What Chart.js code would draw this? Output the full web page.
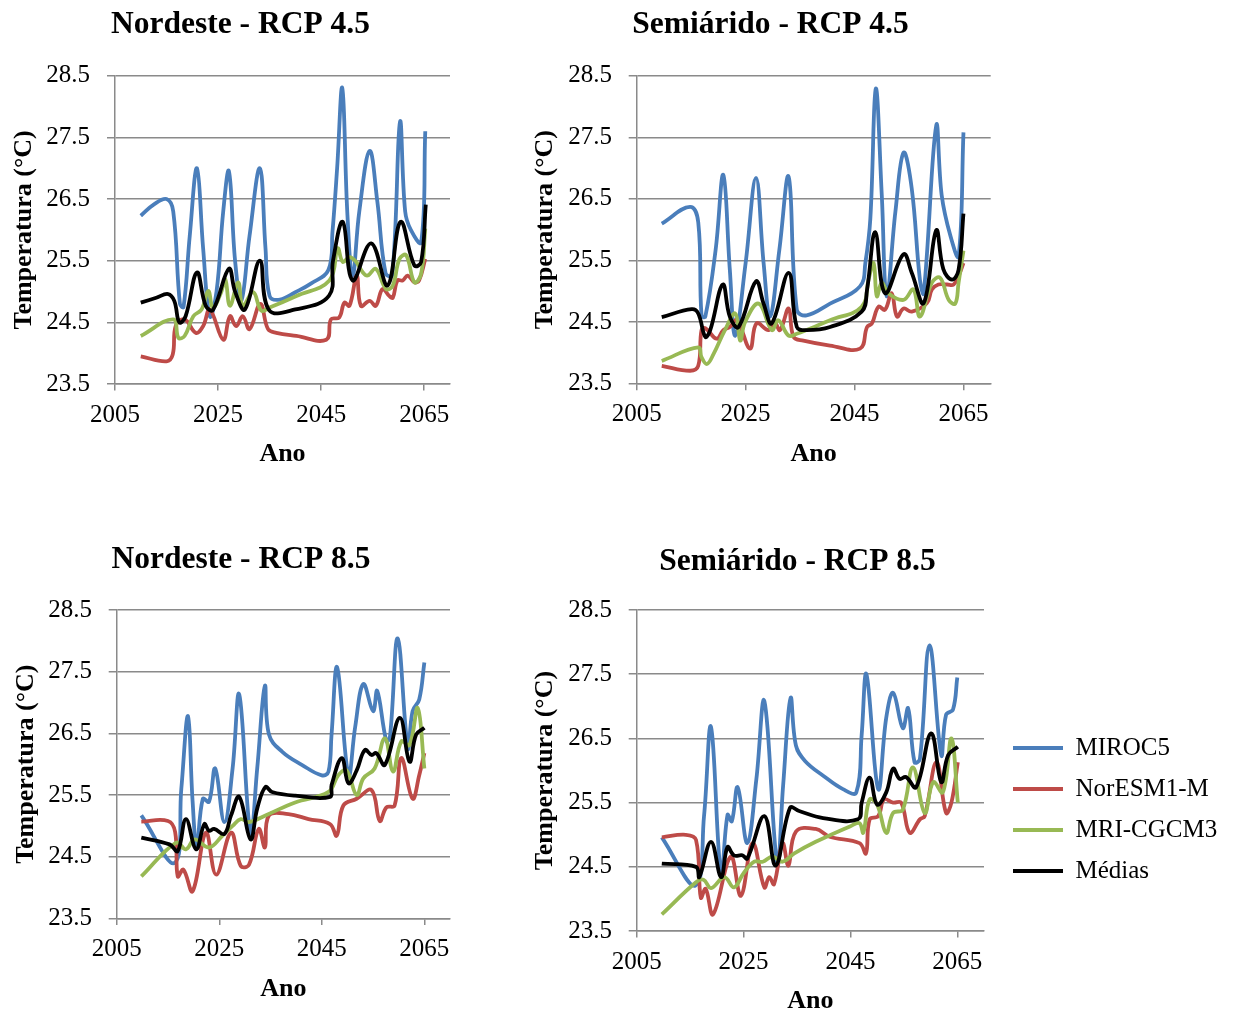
<!DOCTYPE html>
<html>
<head>
<meta charset="utf-8">
<script src="https://cdn.jsdelivr.net/npm/chart.js@4.4.1/dist/chart.umd.min.js"></script>
<style>
html, body { margin: 0; padding: 0; background: #ffffff; width: 1237px; height: 1010px; overflow: hidden; }
canvas { position: absolute; }
</style>
</head>
<body>
<canvas id="p1"></canvas>
<canvas id="p2"></canvas>
<canvas id="p3"></canvas>
<canvas id="p4"></canvas>
<script>
// ---------- labels ----------
const seriesNames = ['MIROC5', 'NorESM1-M', 'MRI-CGCM3', 'Médias'];
const panelTitles = ['Nordeste - RCP 4.5', 'Semiárido - RCP 4.5', 'Nordeste - RCP 8.5', 'Semiárido - RCP 8.5'];
const xAxisTitle = 'Ano';
const yAxisTitle = 'Temperatura (°C)';
const xTickValues = [2005, 2025, 2045, 2065];
const yTickValues = [23.5, 24.5, 25.5, 26.5, 27.5, 28.5];

// ---------- Nordeste - RCP 4.5 ----------
const ne45MirocYears = [2010, 2012.5, 2015, 2016.3, 2017.6, 2018.3, 2019.5, 2020.9, 2022.1, 2023.4, 2024.7, 2026, 2027.1, 2028.3, 2029.5, 2031.1, 2033.1, 2034.2, 2035, 2037, 2040, 2043, 2046.4, 2047.2, 2048.1, 2049.1, 2050.1, 2051.1, 2052.4, 2054.4, 2055.9, 2057.5, 2058.8, 2060.3, 2061.3, 2062.4, 2064.4, 2065.2];
const ne45MirocTemp  = [26.23, 26.41, 26.5, 26.3, 24.8, 24.75, 25.9, 27.0, 25.7, 24.6, 25.0, 26.3, 26.95, 25.5, 24.85, 25.9, 27.0, 25.7, 24.93, 24.87, 24.99, 25.13, 25.35, 25.97, 27.0, 28.3, 26.24, 25.25, 26.3, 27.28, 26.46, 25.3, 25.26, 27.75, 26.3, 26.0, 25.8, 27.6];
const ne45NorYears = [2010, 2015, 2016.2, 2016.8, 2018.5, 2020.7, 2022.1, 2023.4, 2026, 2027.3, 2028.5, 2029.8, 2031.1, 2033.2, 2034.7, 2036.3, 2040.2, 2046, 2046.9, 2048.5, 2049.5, 2050.5, 2051.9, 2052.7, 2054.4, 2055.6, 2056.9, 2058.2, 2058.9, 2059.8, 2060.8, 2061.8, 2063.1, 2064, 2065.2];
const ne45NorTemp  = [23.95, 23.87, 23.98, 24.45, 24.55, 24.33, 24.44, 24.71, 24.22, 24.6, 24.44, 24.6, 24.39, 24.8, 24.39, 24.33, 24.28, 24.22, 24.55, 24.58, 24.82, 24.77, 25.26, 24.77, 24.85, 24.77, 25.04, 24.93, 24.9, 25.18, 25.18, 25.26, 25.15, 25.18, 25.53];
const ne45MriYears = [2010, 2016.3, 2017.3, 2018.5, 2020.2, 2021.8, 2023.1, 2024, 2025.6, 2026.4, 2027.3, 2028.9, 2029.8, 2031.8, 2033.4, 2035, 2040.2, 2046.6, 2048.2, 2049.2, 2050.5, 2051.8, 2053.1, 2054, 2055.6, 2057.6, 2058.9, 2060.2, 2061.5, 2063.1, 2064.4, 2065.2];
const ne45MriTemp  = [24.28, 24.55, 24.25, 24.28, 24.6, 24.71, 25.01, 24.74, 24.99, 25.2, 24.77, 25.15, 24.77, 24.99, 24.69, 24.74, 24.93, 25.18, 25.7, 25.48, 25.56, 25.48, 25.31, 25.26, 25.37, 25.04, 25.1, 25.53, 25.59, 25.15, 25.29, 26.02];
const ne45MeanYears = [2010, 2013, 2015.3, 2016.5, 2017.5, 2018.7, 2020.9, 2022.6, 2024, 2027.1, 2028.3, 2030.2, 2033.1, 2034.9, 2040, 2046.5, 2047.3, 2049.2, 2051.1, 2054.7, 2057.9, 2060.4, 2063.1, 2064.4, 2065.3];
const ne45MeanTemp  = [24.82, 24.9, 24.96, 24.85, 24.5, 24.6, 25.31, 24.77, 24.7, 25.37, 25.0, 24.71, 25.5, 24.7, 24.71, 24.93, 25.5, 26.13, 25.18, 25.78, 25.1, 26.13, 25.42, 25.48, 26.41];

// ---------- Semiárido - RCP 4.5 ----------
const sa45MirocYears = [2009.6, 2014.8, 2016.3, 2016.9, 2017.6, 2019.5, 2020.9, 2022.1, 2023.1, 2025, 2026.9, 2028.3, 2029.5, 2031.2, 2032.9, 2034.4, 2036.2, 2040.5, 2046, 2047, 2047.9, 2048.9, 2050, 2050.9, 2052.5, 2054, 2055.5, 2057, 2057.7, 2060, 2061, 2062.6, 2064.1, 2065];
const sa45MirocTemp  = [26.1, 26.37, 26.12, 24.61, 24.59, 25.68, 26.89, 25.35, 24.28, 25.46, 26.84, 25.46, 24.59, 25.68, 26.86, 24.7, 24.61, 24.8, 25.08, 25.47, 26.18, 28.29, 26.56, 24.92, 26.29, 27.25, 26.67, 25.19, 24.97, 27.69, 26.56, 25.9, 25.57, 27.58];
const sa45NorYears = [2009.6, 2014.8, 2016.3, 2016.9, 2017.6, 2019.7, 2020.9, 2022.1, 2023.4, 2025.8, 2027, 2029.2, 2030.3, 2031.3, 2032.9, 2033.8, 2035.6, 2040.5, 2046, 2047.3, 2048.2, 2049.4, 2050.6, 2051.8, 2052.8, 2054, 2055.5, 2058.3, 2059.2, 2060.4, 2062, 2063.2, 2064.1, 2065];
const sa45NorTemp  = [23.79, 23.71, 23.79, 24.37, 24.4, 24.23, 24.37, 24.42, 24.53, 24.07, 24.48, 24.37, 24.5, 24.37, 24.72, 24.26, 24.2, 24.12, 24.07, 24.42, 24.48, 24.75, 24.7, 24.97, 24.59, 24.72, 24.67, 24.81, 25.03, 25.11, 25.11, 25.11, 25.25, 25.46];
const sa45MriYears = [2009.6, 2016.3, 2016.9, 2017.9, 2019.1, 2021.2, 2023.1, 2024, 2024.9, 2027.4, 2029.8, 2031, 2032.9, 2034.4, 2036.2, 2040.5, 2046.3, 2047.6, 2048.5, 2049.1, 2050, 2051.2, 2054, 2055.8, 2057, 2059.2, 2060.7, 2062.3, 2063.5, 2064.1, 2065];
const sa45MriTemp  = [23.87, 24.09, 23.93, 23.82, 23.98, 24.37, 24.64, 24.2, 24.5, 24.8, 24.37, 24.53, 24.28, 24.31, 24.37, 24.53, 24.75, 25.2, 25.46, 24.92, 25.14, 24.97, 24.86, 25.03, 24.59, 25.14, 25.22, 24.86, 24.8, 25.14, 25.66];
const sa45MeanYears = [2009.6, 2015.1, 2016.3, 2017.6, 2018.5, 2020.8, 2022.1, 2023.7, 2026.9, 2028.3, 2029.8, 2032.9, 2034.4, 2036.2, 2040.5, 2046.3, 2047.3, 2048.8, 2050.6, 2054, 2055.5, 2057.7, 2060, 2061.3, 2062.9, 2064.1, 2065];
const sa45MeanTemp  = [24.58, 24.71, 24.64, 24.26, 24.37, 25.11, 24.59, 24.42, 25.16, 24.8, 24.48, 25.3, 24.42, 24.37, 24.42, 24.67, 25.03, 25.96, 24.97, 25.6, 25.3, 24.81, 25.99, 25.36, 25.19, 25.35, 26.26];

// ---------- Nordeste - RCP 8.5 ----------
const ne85MirocYears = [2009.8, 2016.3, 2017.6, 2018.9, 2019.8, 2020.6, 2021.8, 2023, 2024.2, 2026, 2027.6, 2028.9, 2031.1, 2032.4, 2033.9, 2034.7, 2037.3, 2041.1, 2045, 2046.3, 2046.9, 2048, 2050.2, 2051.5, 2053.1, 2055, 2055.8, 2057.6, 2058.3, 2059.8, 2061.8, 2062.7, 2064, 2065];
const ne85MirocTemp  = [25.17, 24.4, 25.6, 26.78, 25.4, 24.67, 25.44, 25.39, 25.93, 25.06, 25.93, 27.13, 24.87, 25.93, 27.27, 26.48, 26.2, 25.99, 25.82, 25.88, 26.48, 27.57, 25.82, 26.6, 27.3, 26.86, 27.19, 26.37, 26.45, 28.04, 26.26, 26.86, 27.05, 27.65];
const ne85NorYears = [2009.8, 2015, 2016.4, 2016.9, 2018, 2019.8, 2022.4, 2024.4, 2027.3, 2029.2, 2030.8, 2032.7, 2033.9, 2034.7, 2038.5, 2042.4, 2046.6, 2047.9, 2049.2, 2051.8, 2054.7, 2056.3, 2057.6, 2059.2, 2060.5, 2062.7, 2064, 2065];
const ne85NorTemp  = [25.07, 25.08, 24.9, 24.18, 24.29, 23.94, 24.89, 24.21, 24.89, 24.35, 24.37, 24.95, 24.65, 25.17, 25.19, 25.11, 25.03, 24.84, 25.33, 25.44, 25.58, 25.08, 25.3, 25.33, 26.1, 25.44, 25.82, 26.18];
const ne85MriYears = [2009.8, 2016.6, 2018.5, 2020.2, 2023, 2025.6, 2027.6, 2029.2, 2030.8, 2034, 2039.8, 2046.3, 2048.2, 2049.8, 2051.8, 2053.1, 2055.3, 2057.3, 2058.9, 2060.5, 2062.1, 2063.7, 2065];
const ne85MriTemp  = [24.18, 24.73, 24.62, 24.78, 24.65, 24.84, 25.0, 25.11, 25.06, 25.17, 25.38, 25.55, 25.82, 25.9, 25.5, 25.77, 25.93, 26.42, 25.88, 26.37, 26.31, 26.91, 25.93];
const ne85MeanYears = [2009.8, 2015.3, 2016.9, 2018.5, 2020.5, 2022.1, 2023, 2024, 2026, 2027.3, 2028.9, 2031.1, 2032.4, 2034, 2035.3, 2039.8, 2046.6, 2046.9, 2048.9, 2050.2, 2051.8, 2053.4, 2054.7, 2055.6, 2057.3, 2060.2, 2062.1, 2063.4, 2065];
const ne85MeanTemp  = [24.81, 24.7, 24.59, 25.11, 24.62, 25.03, 24.92, 24.95, 24.87, 25.17, 25.47, 24.78, 25.28, 25.63, 25.55, 25.49, 25.47, 25.66, 26.1, 25.69, 25.9, 26.23, 26.15, 26.18, 25.99, 26.75, 26.04, 26.48, 26.59];

// ---------- Semiárido - RCP 8.5 ----------
const sa85MirocYears = [2009.7, 2016, 2017.6, 2018.9, 2020.8, 2022, 2022.8, 2023.9, 2025.7, 2027.4, 2028.9, 2031.3, 2032.4, 2033.8, 2034.8, 2036.5, 2039.9, 2043.6, 2046.1, 2047.1, 2048, 2050.2, 2051.7, 2053, 2054.8, 2055.8, 2057, 2058, 2059.8, 2062, 2062.9, 2064.2, 2065];
const sa85MirocTemp  = [24.96, 24.21, 25.29, 26.68, 24.37, 25.31, 25.21, 25.74, 24.87, 25.87, 27.08, 24.55, 25.76, 27.13, 26.39, 26.15, 25.92, 25.71, 25.66, 26.55, 27.5, 25.71, 26.82, 27.21, 26.66, 26.97, 26.13, 26.18, 27.95, 26.24, 26.87, 26.95, 27.45];
const sa85NorYears = [2009.7, 2014.2, 2016.1, 2017, 2017.9, 2019.3, 2022.6, 2024.5, 2026.7, 2028.9, 2029.8, 2030.7, 2032.3, 2033.4, 2034.8, 2038.5, 2041.1, 2046.7, 2047.9, 2048.6, 2050.2, 2051.3, 2053, 2054.5, 2056.1, 2058, 2058.9, 2061.1, 2062.9, 2063.9, 2065.1];
const sa85NorTemp  = [24.96, 25.0, 24.92, 24.02, 24.16, 23.76, 24.66, 24.05, 24.87, 24.18, 24.34, 24.23, 24.87, 24.52, 25.05, 25.09, 24.97, 24.87, 24.71, 25.24, 25.29, 25.55, 25.5, 25.5, 25.03, 25.24, 25.29, 26.13, 25.34, 25.5, 26.13];
const sa85MriYears = [2009.7, 2016.1, 2017.5, 2018.9, 2021.4, 2023.2, 2025, 2027, 2028.6, 2030.4, 2032.3, 2034.5, 2038.5, 2044.9, 2046.7, 2047.4, 2048.6, 2050, 2051.7, 2053, 2054.8, 2056.7, 2058.9, 2060.5, 2062.3, 2063.9, 2065.1];
const sa85MriTemp  = [23.76, 24.26, 24.3, 24.17, 24.34, 24.18, 24.4, 24.58, 24.58, 24.66, 24.58, 24.71, 24.89, 25.13, 25.18, 25.03, 25.55, 25.47, 25.03, 25.34, 25.39, 26.05, 25.34, 25.82, 25.66, 26.5, 25.5];
const sa85MeanYears = [2009.7, 2016.1, 2016.7, 2018.9, 2020.8, 2022, 2023.2, 2024.8, 2025.7, 2028.9, 2031, 2033.7, 2035.4, 2039.9, 2046.4, 2047.1, 2048.6, 2050, 2051.7, 2053, 2054.2, 2055.4, 2057.3, 2060.1, 2062, 2063.3, 2065.1];
const sa85MeanTemp  = [24.55, 24.5, 24.34, 24.89, 24.34, 24.81, 24.68, 24.68, 24.63, 25.29, 24.52, 25.42, 25.37, 25.26, 25.24, 25.5, 25.89, 25.47, 25.66, 26.03, 25.87, 25.9, 25.74, 26.58, 25.82, 26.24, 26.37];

// ---------- styling ----------
const seriesColors = ['#4A7EBB', '#BE4B48', '#98B954', '#000000'];
const gridColor = '#8A8A8A';
const FONT = "'Liberation Serif', 'Times New Roman', Times, serif";
Chart.defaults.font.family = FONT;
Chart.defaults.color = '#000000';

function buildSets(list) {
  return list.map((pair, i) => ({
    label: seriesNames[i],
    data: pair[0].map((x, k) => ({ x: x, y: pair[1][k] })),
    borderColor: seriesColors[i],
    backgroundColor: seriesColors[i],
    borderWidth: 3.8,
    pointRadius: 0,
    pointHoverRadius: 0,
    tension: 0.4,
    fill: false,
    order: 3 - i
  }));
}

// moves the title (and legend) boxes to the spots they occupy in the reference
const boxPlacer = {
  id: 'boxPlacer',
  afterLayout(chart, args, opts) {
    const t = chart.titleBlock;
    if (t && opts.titleCenter !== undefined) {
      const dx = opts.titleCenter - (t.left + t.right) / 2;
      t.left += dx; t.right += dx;
    }
    const lg = chart.legend;
    if (lg && opts.legendLeft !== undefined) {
      const pad = lg.options.labels.padding;
      const fs = lg.options.labels.font.size;
      const dx = opts.legendLeft - (lg.left + pad);
      const dy = (opts.legendFirstRow - pad - fs / 2) - lg.top;
      lg.left += dx;
      lg.right = lg.left + opts.legendBoxWidth;
      lg.width = opts.legendBoxWidth;
      lg.top += dy; lg.bottom += dy;
    }
  }
};

function makePanel(id, spec, title, sets, legend) {
  const cv = document.getElementById(id);
  cv.width = spec.w; cv.height = spec.h;
  cv.style.left = spec.left + 'px';
  cv.style.top = spec.top + 'px';
  cv.style.width = spec.w + 'px';
  cv.style.height = spec.h + 'px';
  const titleSize = 31.5, titleLH = titleSize * 1.2;
  const tickSize = 25, axTitleSize = 26;
  const legendReserve = 150;
  const padTop = spec.titleY - spec.top - titleLH / 2;
  const padBottom = spec.plotTop - spec.top - padTop - titleLH;
  const padRight = spec.left + spec.w - spec.plotRight - (legend ? legendReserve : 0);
  const placerOpts = { titleCenter: spec.titleX - spec.left };
  if (legend) {
    placerOpts.legendLeft = spec.legendX - spec.left;
    placerOpts.legendFirstRow = spec.legendY - spec.top;
    placerOpts.legendBoxWidth = spec.left + spec.w - spec.legendX + 16;
  }
  return new Chart(cv, {
    type: 'line',
    data: { datasets: buildSets(sets) },
    plugins: [boxPlacer],
    options: {
      responsive: false,
      animation: false,
      devicePixelRatio: 1,
      events: [],
      layout: { padding: { left: 0, top: 0, right: padRight, bottom: 0 } },
      plugins: {
        title: {
          display: true, text: title, color: '#000',
          font: { size: titleSize, weight: 'bold', family: FONT, lineHeight: 1.2 },
          padding: { top: padTop, bottom: padBottom }
        },
        legend: legend ? {
          display: true, position: 'right', align: 'start', maxWidth: legendReserve,
          labels: {
            usePointStyle: true, pointStyle: 'line', pointStyleWidth: 50,
            boxHeight: 4, padding: 16, color: '#000',
            font: { size: 25, family: FONT },
            sort: (a, b) => a.datasetIndex - b.datasetIndex
          }
        } : { display: false },
        boxPlacer: placerOpts,
        tooltip: { enabled: false }
      },
      scales: {
        x: {
          type: 'linear', min: 2005, max: 2070,
          afterBuildTicks: s => { s.ticks = xTickValues.map(v => ({ value: v })); },
          afterFit: s => { s.height = spec.xTitleY + axTitleSize * 0.6 - spec.plotBottom; },
          ticks: { font: { size: tickSize }, color: '#000', padding: spec.xTickY - spec.plotBottom - 6.5 - tickSize * 0.6, maxRotation: 0, autoSkip: false, callback: v => String(v) },
          grid: { drawOnChartArea: false, drawTicks: true, tickLength: 6.5, color: gridColor, lineWidth: 1.5 },
          border: { display: true, color: gridColor, width: 1.5 },
          title: { display: true, text: xAxisTitle, color: '#000', font: { size: axTitleSize, weight: 'bold' }, padding: 0 }
        },
        y: {
          type: 'linear', min: 23.5, max: 28.5,
          afterBuildTicks: s => { s.ticks = yTickValues.map(v => ({ value: v })); },
          afterFit: s => { s.width = spec.plotLeft - spec.left; },
          ticks: { font: { size: tickSize }, color: '#000', padding: spec.plotLeft - 8 - spec.yLabelRight, callback: v => Number(v).toFixed(1) },
          grid: { color: gridColor, lineWidth: 1.5, drawTicks: true, tickLength: 8 },
          border: { display: true, color: gridColor, width: 1.5 },
          title: { display: true, text: yAxisTitle, color: '#000', font: { size: axTitleSize, weight: 'bold' }, padding: { top: spec.yTitleX - spec.left - axTitleSize * 0.6, bottom: 0 } }
        }
      }
    }
  });
}

makePanel('p1', { left: 0, top: 0, w: 481, h: 470, plotRight: 450, titleX: 240.5, titleY: 25, plotTop: 75.7, plotLeft: 115, plotBottom: 381.7, xTickY: 412.7, xTitleY: 452, yLabelRight: 90, yTitleX: 24 },
  panelTitles[0], [[ne45MirocYears, ne45MirocTemp], [ne45NorYears, ne45NorTemp], [ne45MriYears, ne45MriTemp], [ne45MeanYears, ne45MeanTemp]], false);
makePanel('p2', { left: 520, top: 0, w: 501, h: 470, plotRight: 990.7, titleX: 770.5, titleY: 25, plotTop: 75.7, plotLeft: 636.7, plotBottom: 379.3, xTickY: 410.5, xTitleY: 450, yLabelRight: 612, yTitleX: 545 },
  panelTitles[1], [[sa45MirocYears, sa45MirocTemp], [sa45NorYears, sa45NorTemp], [sa45MriYears, sa45MriTemp], [sa45MeanYears, sa45MeanTemp]], false);
makePanel('p3', { left: 0, top: 535, w: 482, h: 470, plotRight: 450, titleX: 241, titleY: 560, plotTop: 610, plotLeft: 116.7, plotBottom: 915, xTickY: 946, xTitleY: 986, yLabelRight: 92, yTitleX: 26 },
  panelTitles[2], [[ne85MirocYears, ne85MirocTemp], [ne85NorYears, ne85NorTemp], [ne85MriYears, ne85MriTemp], [ne85MeanYears, ne85MeanTemp]], false);
makePanel('p4', { left: 520, top: 537, w: 717, h: 480, plotRight: 984, titleX: 797.5, titleY: 562, plotTop: 610, plotLeft: 636.7, plotBottom: 926.7, xTickY: 958, xTitleY: 997, yLabelRight: 612, yTitleX: 545, legendX: 1013, legendY: 748 },
  panelTitles[3], [[sa85MirocYears, sa85MirocTemp], [sa85NorYears, sa85NorTemp], [sa85MriYears, sa85MriTemp], [sa85MeanYears, sa85MeanTemp]], true);
</script>
</body>
</html>
